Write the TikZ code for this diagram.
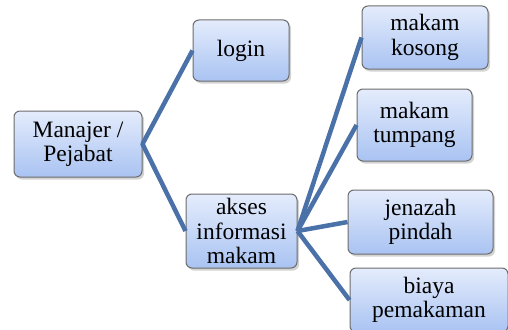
\documentclass[tikz,border=0pt]{standalone}
\usepackage{fontspec}
\setmainfont{Liberation Serif}
\usetikzlibrary{shadows}
\definecolor{linkblue}{HTML}{4A72A8}
\definecolor{boxtop}{HTML}{E4ECFC}
\definecolor{boxbot}{HTML}{A9C3F2}
\begin{document}
\begin{tikzpicture}[
        x=1pt, y=-1pt,
        every node/.style={rectangle, rounded corners=6pt, draw=gray!85!black, line width=1pt,
            top color=boxtop, bottom color=boxbot, align=center, inner sep=0pt,
            font=\rmfamily\fontsize{23.5}{24.5}\selectfont,
            drop shadow={shadow xshift=2pt, shadow yshift=-2.5pt, opacity=0.35}},
        link/.style={linkblue, line width=4.5pt, line join=round}
    ]
        \useasboundingbox (0,0) rectangle (508,329);
        \clip (0,0) rectangle (508,329);

        % Kotak utama
        \node[minimum width=128pt, minimum height=66pt] (user) at (78,144) {Manajer /\\Pejabat};
        \node[minimum width=96pt, minimum height=61pt] (login) at (241,50.5) {login};
        \node[minimum width=111pt, minimum height=74pt] (akses) at (241.5,231) {akses\\informasi\\makam};

        % Kotak informasi
        \node[minimum width=126pt, minimum height=63pt] (kosong) at (425,37.5) {makam\\kosong};
        \node[minimum width=115pt, minimum height=72pt] (tumpang) at (414.5,125) {makam\\tumpang};
        \node[minimum width=145pt, minimum height=64pt] (pindah) at (420.5,222) {jenazah\\pindah};
        \node[minimum width=158pt, minimum height=64pt] (biaya) at (429,300) {biaya\\pemakaman};

        % Garis penghubung
        \draw[link] (login.west) -- (user.east) -- (akses.west);
        \draw[link] (kosong.west) -- (akses.east);
        \draw[link] (tumpang.west) -- (akses.east);
        \draw[link] (pindah.west) -- (akses.east);
        \draw[link] (biaya.west) -- (akses.east);
    \end{tikzpicture}
\end{document}
